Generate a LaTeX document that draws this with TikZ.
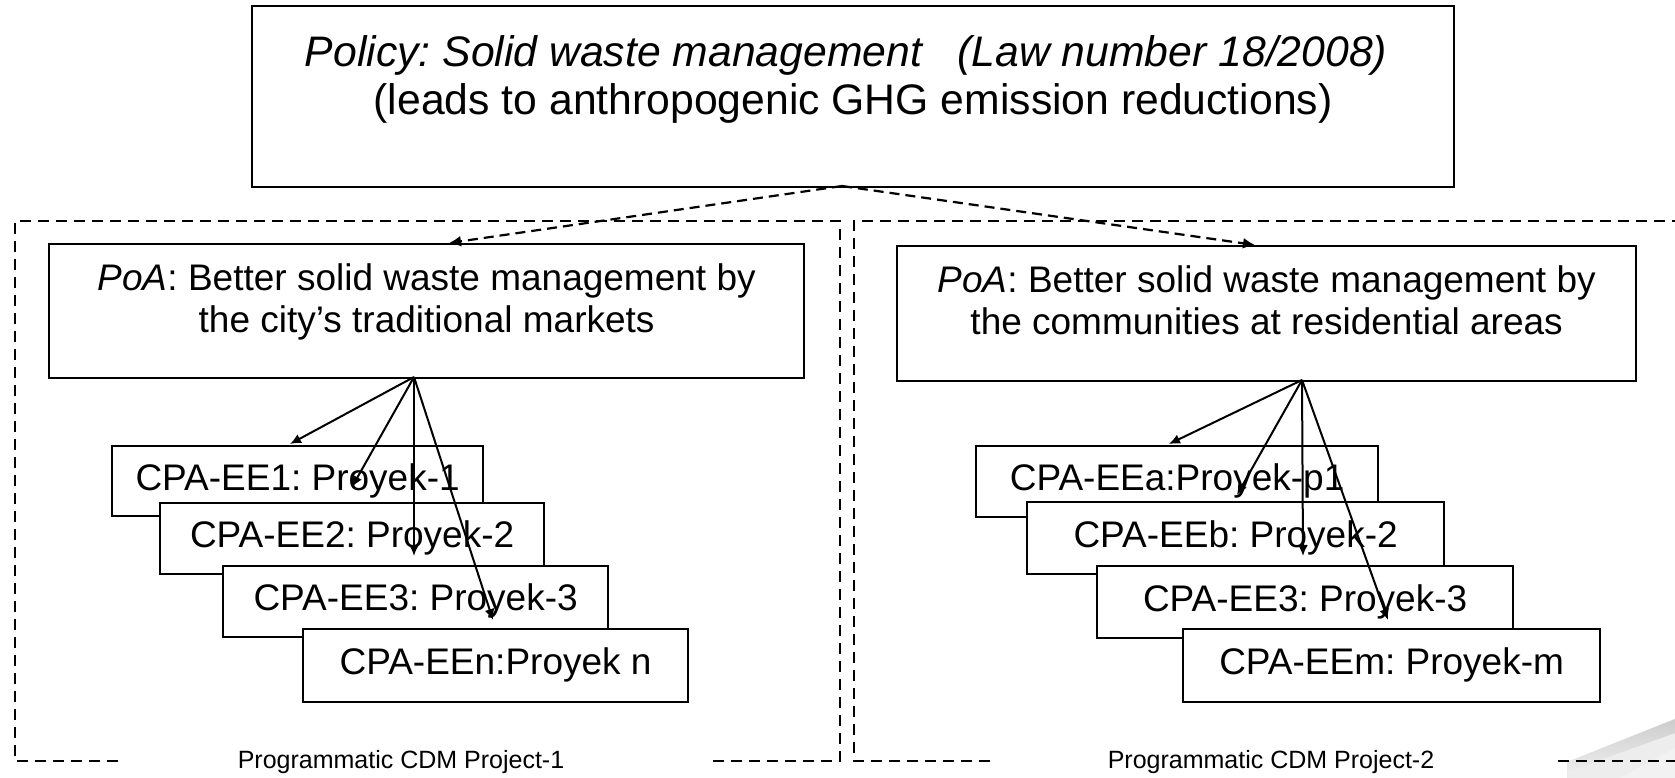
\documentclass[tikz,border=0pt]{standalone}
\usepackage{fontspec}
\setmainfont{Liberation Sans}
\usetikzlibrary{arrows.meta}
\newcommand{\boxtext}[4]{\parbox[c][#2][t]{#1}{\centering\vspace*{#3}#4}}

\begin{document}
\frenchspacing
\begin{tikzpicture}[x=1pt, y=-1pt,
		box/.style={draw, line width=2.2pt, fill=white, inner sep=0pt, anchor=north west},
		cpa/.style={box, text height=26pt, text depth=8pt, font=\fontsize{37}{42}\selectfont},
		link/.style={line width=2pt, -{Latex[length=11pt,width=10pt]}},
		dlink/.style={line width=2.2pt, dash pattern=on 10pt off 6pt, -{Latex[length=12pt,width=11pt]}},
		frame/.style={line width=2pt, dash pattern=on 11pt off 7pt},
		caption/.style={font=\fontsize{25}{30}\selectfont}]
			%%%%% START %%%%%
			
			\useasboundingbox (0,0) rectangle (1675,778);
			
			\fill[gray!14] (1567,778) -- (1567,762) -- (1675,719) -- (1675,778) -- cycle;
			\shade[top color=gray!40, bottom color=gray!14] (1567,762) -- (1675,719) -- (1675,733) -- (1567,772) -- cycle;
			\fill[gray!10] (1620,778) -- (1675,748) -- (1675,778) -- cycle;
			
			\draw[frame] (118,761) -- (15,761) -- (15,221) -- (840,221) -- (840,761) -- (706,761);
			\draw[frame] (990,761) -- (854,761) -- (854,221) -- (1680,221);
			\draw[frame] (1558,761) -- (1680,761);
			\node[caption] (capL) at (401,762) {Programmatic CDM Project-1};
			\node[caption] (capR) at (1271,762) {Programmatic CDM Project-2};
			
			\node[box, font=\fontsize{42.7}{48}\selectfont] (policy) at (251,5) {\boxtext{1202pt}{181pt}{29pt}{\hspace*{-14pt}\textit{Policy: Solid waste management\ \ \ (Law number 18/2008)}\\(leads to anthropogenic GHG emission reductions)}};
			
			\node[box, font=\fontsize{37}{42}\selectfont] (poaL) at (48,243) {\boxtext{755pt}{134pt}{20pt}{\textit{PoA}: Better solid waste management by\\the city's traditional markets}};
			\node[box, font=\fontsize{37}{42}\selectfont] (poaR) at (896,245) {\boxtext{739pt}{135pt}{20pt}{\textit{PoA}: Better solid waste management by\\the communities at residential areas}};
			
			\coordinate (apex) at (842,186);
			\coordinate (inL) at (449,243);
			\coordinate (inR) at (1255,245);
			\draw[dlink] (apex) -- (inL);
			\draw[dlink] (apex) -- (inR);
			
			\node[cpa, minimum width=371pt, minimum height=70pt] (eeL1) at (111,445) {CPA-EE1: Proyek-1};
			\node[cpa, minimum width=384pt, minimum height=71pt] (eeL2) at (159,502) {CPA-EE2: Proyek-2};
			\node[cpa, minimum width=385pt, minimum height=71pt] (eeL3) at (222,565) {CPA-EE3: Proyek-3};
			\node[cpa, minimum width=385pt, minimum height=73pt] (eeL4) at (302,628) {CPA-EEn:Proyek n};
			
			\node[cpa, minimum width=402pt, minimum height=71pt] (eeR1) at (975,445) {CPA-EEa:Proyek-p1};
			\node[cpa, minimum width=417pt, minimum height=72pt] (eeR2) at (1026,501) {CPA-EEb: Proyek-2};
			\node[cpa, minimum width=416pt, minimum height=72pt] (eeR3) at (1096,565) {CPA-EE3: Proyek-3};
			\node[cpa, minimum width=417pt, minimum height=73pt] (eeR4) at (1182,628) {CPA-EEm: Proyek-m};
			
			\coordinate (oL) at (414,377);
			\coordinate (tL1) at (290,444);
			\coordinate (tL2) at (352,487);
			\coordinate (tL3) at (414,556);
			\coordinate (tL4) at (493,620);
			\foreach \t in {tL1,tL2,tL3,tL4}
				\draw[link] (oL) -- (\t);
			
			\coordinate (oR) at (1302,380);
			\coordinate (tR1) at (1169,444);
			\coordinate (tR2) at (1237,495);
			\coordinate (tR3) at (1303,556);
			\coordinate (tR4) at (1388,620);
			\foreach \t in {tR1,tR2,tR3,tR4}
				\draw[link] (oR) -- (\t);
			
			%%%%% END %%%%%
		\end{tikzpicture}
\end{document}
